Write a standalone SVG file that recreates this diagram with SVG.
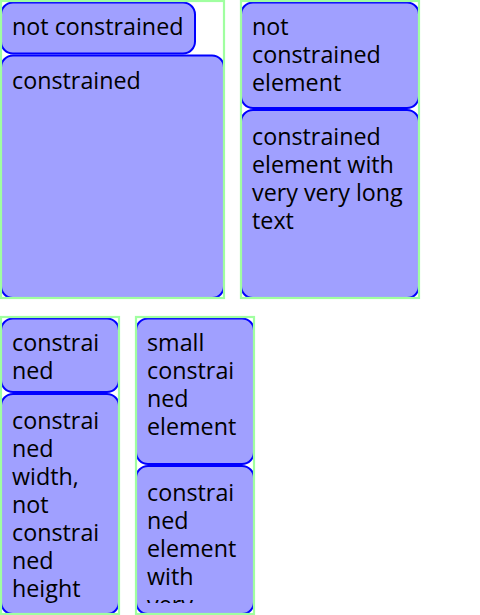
<svg xmlns="http://www.w3.org/2000/svg" width="480" height="615" viewBox="0 0 480 615">
<style>
.box{fill:#a0a0ff;stroke:#0000ff;stroke-width:2}
.cont{fill:none;stroke:#a0ffa0;stroke-width:2.2}
text{font-family:"Open Sans","Noto Sans","DejaVu Sans",sans-serif;font-size:23.3px;fill:#000}
</style>
<defs>
<clipPath id="clip4"><rect x="137" y="466" width="116" height="137"/></clipPath>
</defs>
<rect width="480" height="615" fill="#fff"/>
<g id="container1">
<g id="c1-box1"><rect class="box" x="1" y="2.5" width="194" height="51" rx="12"/><text x="12" y="35">not constrained</text></g>
<g id="c1-box2"><rect class="box" x="1" y="55.5" width="223" height="242.5" rx="12"/><text x="12" y="89">constrained</text></g>
<rect class="cont" x="1" y="1" width="223" height="297"/>
</g>
<g id="container2">
<g id="c2-box1"><rect class="box" x="241" y="2.5" width="178" height="105.5" rx="12"/>
<text x="252" y="35">not</text><text x="252" y="63">constrained</text><text x="252" y="91">element</text></g>
<g id="c2-box2"><rect class="box" x="241" y="110" width="178" height="188" rx="12"/>
<text x="252" y="145">constrained</text><text x="252" y="173">element with</text><text x="252" y="201">very very long</text><text x="252" y="229">text</text></g>
<rect class="cont" x="241" y="1" width="178" height="297"/>
</g>
<g id="container3">
<g id="c3-box1"><rect class="box" x="1" y="318.5" width="118" height="73.5" rx="12"/>
<text x="12" y="351">constrai</text><text x="12" y="379">ned</text></g>
<g id="c3-box2"><rect class="box" x="1" y="394" width="118" height="220" rx="12"/>
<text x="12" y="429">constrai</text><text x="12" y="457">ned</text><text x="12" y="485">width,</text><text x="12" y="513">not</text><text x="12" y="541">constrai</text><text x="12" y="569">ned</text><text x="12" y="597">height</text></g>
<rect class="cont" x="1" y="317" width="118" height="297"/>
</g>
<g id="container4">
<g id="c4-box1"><rect class="box" x="136" y="318.5" width="118" height="145.5" rx="12"/>
<text x="147" y="351">small</text><text x="147" y="379">constrai</text><text x="147" y="407">ned</text><text x="147" y="435">element</text></g>
<g id="c4-box2"><rect class="box" x="136" y="466" width="118" height="148" rx="12"/>
<g clip-path="url(#clip4)"><text x="147" y="501">constrai</text><text x="147" y="529">ned</text><text x="147" y="557">element</text><text x="147" y="585">with</text><text x="147" y="613">very</text></g></g>
<rect class="cont" x="136" y="317" width="118" height="297"/>
</g>
</svg>
